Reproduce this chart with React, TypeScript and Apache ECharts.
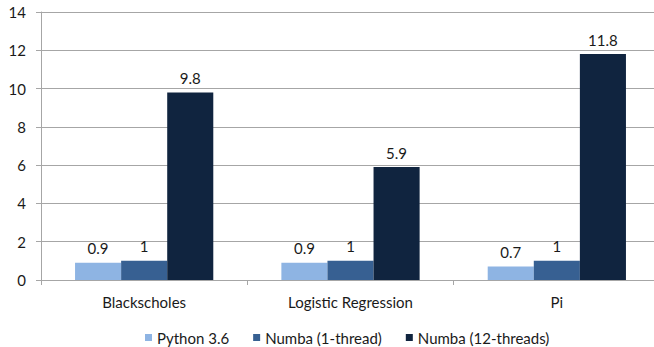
import React, { useEffect, useRef } from "react";
import * as echarts from "echarts";

const categories = ["Blackscholes", "Logistic Regression", "Pi"];
const python36 = [0.9, 0.9, 0.7];
const numba1 = [1, 1, 1];
const numba12 = [9.8, 5.9, 11.8];
const seriesNames = ["Python 3.6", "Numba (1-thread)", "Numba (12-threads)"];
const colors = ["#8EB4E3", "#376092", "#10243F"];

const FONT = "Lato";

export default function App() {
  const ref = useRef<HTMLDivElement>(null);
  useEffect(() => {
    if (!ref.current) return;
    const chart = echarts.init(ref.current, undefined, { renderer: "svg" });
    const mk = (name: string, data: number[], color: string) => ({
      name,
      type: "bar",
      data,
      barGap: "0%",
      barCategoryGap: "33%",
      itemStyle: { color },
      label: {
        show: true,
        position: "top",
        distance: 7,
        color: "#1a1a1a",
        fontFamily: FONT,
        fontSize: 15,
      },
    });
    chart.setOption({
      animation: false,
      backgroundColor: "#ffffff",
      grid: { left: 41, top: 12, width: 619, height: 268, containLabel: false },
      legend: {
        left: 140,
        top: 325,
        itemWidth: 7,
        itemHeight: 7,
        itemGap: 24,
        icon: "rect",
        textStyle: { fontFamily: FONT, fontSize: 15, color: "#1a1a1a" },
        data: seriesNames,
      },
      xAxis: {
        type: "category",
        data: categories,
        axisLine: { lineStyle: { color: "#A6A6A6", width: 1 } },
        axisTick: { show: true, length: 5, alignWithLabel: false, lineStyle: { color: "#A6A6A6" } },
        axisLabel: { margin: 14, fontFamily: FONT, fontSize: 15, color: "#1a1a1a" },
      },
      yAxis: {
        type: "value",
        min: 0,
        max: 14,
        interval: 2,
        axisLine: { show: true, lineStyle: { color: "#A6A6A6", width: 1 } },
        axisTick: { show: true, length: 5, lineStyle: { color: "#A6A6A6" } },
        splitLine: { lineStyle: { color: "#A6A6A6", width: 1 } },
        axisLabel: { margin: 15, fontFamily: FONT, fontSize: 15, color: "#1a1a1a" },
      },
      series: [
        mk(seriesNames[0], python36, colors[0]),
        mk(seriesNames[1], numba1, colors[1]),
        mk(seriesNames[2], numba12, colors[2]),
      ],
    });
    return () => chart.dispose();
  }, []);
  return (
    <div
      style={{
        position: "fixed",
        left: 0,
        top: 0,
        width: 654,
        height: 347,
        overflow: "hidden",
        background: "#fff",
      }}
    >
      <div ref={ref} style={{ width: 670, height: 347 }} />
    </div>
  );
}
